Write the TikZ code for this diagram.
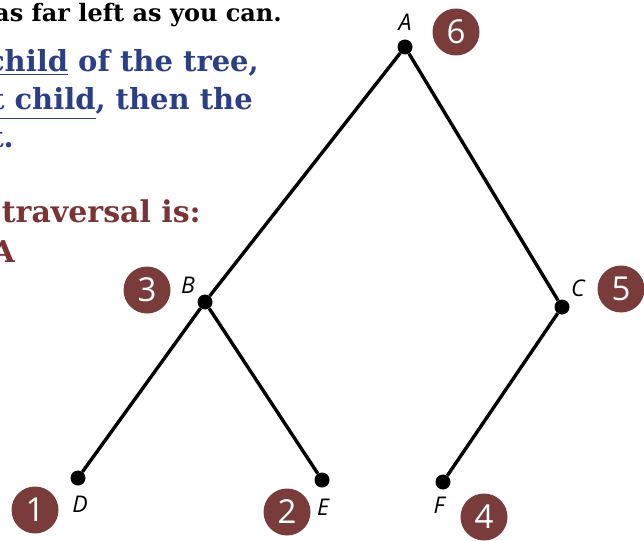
\documentclass[tikz,border=0pt]{standalone}
\usepackage{fontspec}
\newfontfamily\txtfont{DejaVu Serif}
\newfontfamily\lblfont{Open Sans}
\newfontfamily\numfont{Open Sans}
\definecolor{badgec}{HTML}{7A3B3B}
\definecolor{navy}{HTML}{2B3F88}
\definecolor{maroonc}{HTML}{7A3434}
\tikzset{
  vertex/.style={circle, fill=black, inner sep=0pt, minimum size=15pt},
  badge/.style={circle, fill=badgec, text=white, inner sep=0pt, minimum size=47pt, font=\numfont\fontsize{33}{33}\selectfont},
  lbl/.style={inner sep=0pt, font=\lblfont\itshape\fontsize{23}{23}\selectfont},
  edgeline/.style={line width=3.4pt},
  blacktxt/.style={inner sep=0pt, anchor=base east, font=\txtfont\bfseries\fontsize{24}{24}\selectfont},
  bluetxt/.style={inner sep=0pt, anchor=base east, text=navy, font=\txtfont\bfseries\fontsize{29}{29}\selectfont},
  maroontxt/.style={inner sep=0pt, anchor=base east, text=maroonc, font=\txtfont\bfseries\fontsize{30}{30}\selectfont}
}
\begin{document}
\begin{tikzpicture}[x=1pt,y=-1pt]
\useasboundingbox (0,0) rectangle (644,540);
\clip (0,0) rectangle (644,540);
% left text
\node[blacktxt] (t1) at (282,22) {as far left as you can.};
\node[bluetxt] (t2) at (259,72) {\underline{child} of the tree,};
\node[bluetxt] (t3) at (253,110) {\underline{right child}, then the};
\node[bluetxt] (t4) at (14,147) {root.};
\node[maroontxt] (t5) at (201,222) {postorder traversal is:};
\node[maroontxt] (t6) at (15,262) {A};
% tree
\node[vertex] (A) at (405,47) {};
\node[vertex] (B) at (205,302) {};
\node[vertex] (C) at (562,307) {};
\node[vertex] (D) at (78,478) {};
\node[vertex] (E) at (322,480) {};
\node[vertex] (F) at (443,482) {};
\draw[edgeline] (A) -- (B);
\draw[edgeline] (A) -- (C);
\draw[edgeline] (B) -- (D);
\draw[edgeline] (B) -- (E);
\draw[edgeline] (C) -- (F);
% labels
\node[lbl] (lA) at (405,22) {A};
\node[lbl] (lB) at (188,285) {B};
\node[lbl] (lC) at (578,288) {C};
\node[lbl] (lD) at (80,504) {D};
\node[lbl] (lE) at (323,507) {E};
\node[lbl] (lF) at (439,505) {F};
% badges
\node[badge] (n6) at (456,32) {6};
\node[badge] (n3) at (147,290) {3};
\node[badge] (n5) at (621,289) {5};
\node[badge] (n1) at (35,510) {1};
\node[badge] (n2) at (287,512) {2};
\node[badge] (n4) at (484,517) {4};
\end{tikzpicture}
\end{document}
